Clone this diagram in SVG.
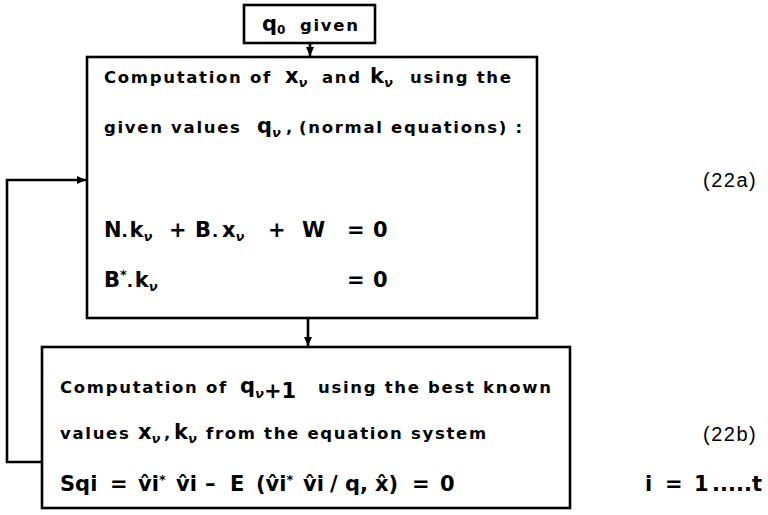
<svg xmlns="http://www.w3.org/2000/svg" width="768" height="515" viewBox="0 0 768 515">
<defs>
<marker id="ah" markerWidth="10" markerHeight="10" refX="9" refY="5" orient="auto" markerUnits="userSpaceOnUse">
<path d="M0,1 L9,5 L0,9 Z" fill="#000"/>
</marker>
<style>
.box{fill:#fff;stroke:#000;stroke-width:2.6}
.ln{fill:none;stroke:#000;stroke-width:2.6}
.t{font-family:"DejaVu Sans","Liberation Sans",sans-serif;font-weight:bold;font-size:16.5px;letter-spacing:1.7px;fill:#000}
.v{font-size:21px;letter-spacing:0}
.s{font-size:13px;font-style:italic;letter-spacing:0}
.u{font-size:12px;letter-spacing:0}
.n{font-family:"Liberation Sans",sans-serif;font-size:20px;letter-spacing:1.5px;fill:#000}
</style>
</defs>
<g id="connectors">
<line class="ln" x1="310" y1="43" x2="310" y2="56" marker-end="url(#ah)"/>
<line class="ln" x1="308" y1="318" x2="308" y2="346" marker-end="url(#ah)"/>
<path class="ln" d="M42,462 H7 V180 H86" marker-end="url(#ah)"/>
</g>
<g id="q0">
<rect class="box" x="244" y="5" width="131" height="38"/>
<text class="t"><tspan class="v" x="262" y="31">q</tspan><tspan class="u" dy="3">0</tspan><tspan x="300" y="31">given</tspan></text>
</g>
<g id="normal">
<rect class="box" x="87" y="57" width="450" height="261"/>
<text class="t"><tspan x="104" y="83">Computation of</tspan><tspan class="v" x="285" y="83">x</tspan><tspan class="s" dy="4">ν</tspan><tspan x="322" y="83">and</tspan><tspan class="v" x="370" y="83">k</tspan><tspan class="s" dy="4">ν</tspan><tspan x="410" y="83">using the</tspan></text>
<text class="t"><tspan x="104" y="133">given values</tspan><tspan class="v" x="257" y="133">q</tspan><tspan class="s" dy="4">ν</tspan><tspan x="286" y="133">,</tspan><tspan x="299" y="133">(normal equations) :</tspan></text>
<text class="t"><tspan class="v" x="104" y="237">N</tspan><tspan>.</tspan><tspan class="v">k</tspan><tspan class="s" dy="4">ν</tspan><tspan class="v" x="169" y="237">+</tspan><tspan class="v" x="195" y="237">B</tspan><tspan dx="1">.</tspan><tspan class="v" dx="2">x</tspan><tspan class="s" dy="4">ν</tspan><tspan class="v" x="268" y="237">+</tspan><tspan class="v" x="302" y="237">W</tspan><tspan class="v" x="347" y="237">=</tspan><tspan class="v" x="373" y="237">0</tspan></text>
<text class="t"><tspan class="v" x="104" y="287">B</tspan><tspan class="s" dy="-8">*</tspan><tspan dy="8">.</tspan><tspan class="v">k</tspan><tspan class="s" dy="4">ν</tspan><tspan class="v" x="347" y="287">=</tspan><tspan class="v" x="373" y="287">0</tspan></text>
</g>
<g id="update">
<rect class="box" x="42" y="347" width="528" height="161"/>
<text class="t"><tspan x="60" y="393">Computation of</tspan><tspan class="v" x="240" y="393">q</tspan><tspan class="s" dy="5">ν</tspan><tspan class="v" x="264" y="398">+1</tspan><tspan x="318" y="393">using the best known</tspan></text>
<text class="t"><tspan x="60" y="439">values</tspan><tspan class="v" x="138" y="439">x</tspan><tspan class="s" dy="4">ν</tspan><tspan x="164" y="439">,</tspan><tspan class="v" x="174" y="439">k</tspan><tspan class="s" dy="4">ν</tspan><tspan x="206" y="439">from the equation system</tspan></text>
<text class="t"><tspan class="v" x="60" y="491">Sqi</tspan><tspan class="v" x="110" y="491">=</tspan><tspan class="v" x="138" y="491">v̂i</tspan><tspan class="s" dy="-7">*</tspan><tspan class="v" x="176" y="491">v̂i</tspan><tspan class="v" x="205" y="491">–</tspan><tspan class="v" x="230" y="491">E</tspan><tspan class="v" x="256" y="491">(v̂i</tspan><tspan class="s" dy="-7">*</tspan><tspan class="v" x="303" y="491">v̂i</tspan><tspan class="v" x="330" y="491">/</tspan><tspan class="v" x="345" y="491">q,</tspan><tspan class="v" x="375" y="491">x̂)</tspan><tspan class="v" x="412" y="491">=</tspan><tspan class="v" x="440" y="491">0</tspan></text>
</g>
<text class="n" x="703" y="187">(22a)</text>
<text class="n" x="703" y="441">(22b)</text>
<text class="t"><tspan class="v" x="645" y="491">i</tspan><tspan class="v" x="665" y="491">=</tspan><tspan class="v" x="694" y="491">1</tspan><tspan class="v" x="712" y="491">.....</tspan><tspan class="v" x="752" y="491">t</tspan></text>
</svg>
